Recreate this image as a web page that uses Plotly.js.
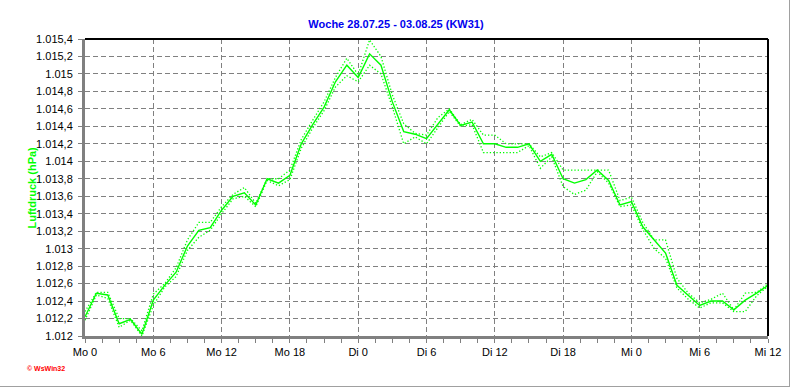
<!DOCTYPE html>
<html><head><meta charset="utf-8">
<script src="https://cdn.plot.ly/plotly-3.0.1.min.js"></script>
<style>
html,body{margin:0;padding:0;background:#fff;}
#wrap{position:relative;width:792px;height:387px;}
#chart{width:792px;height:387px;}
.bR{position:absolute;left:789px;top:0;width:1px;height:387px;background:#a0a0a0;}
.bB{position:absolute;left:0;top:386px;width:790px;height:1px;background:#a0a0a0;}
</style>
</head><body>
<div id="wrap"><div id="chart"></div><div class="bR"></div><div class="bB"></div></div>
<script>
// hours since Monday 0:00
const hours = [0,1,2,3,4,5,6,7,8,9,10,11,12,13,14,15,16,17,18,19,20,21,22,23,24,25,26,27,28,29,30,31,32,33,34,35,36,37,38,39,40,41,42,43,44,45,46,47,48,49,50,51,52,53,54,55,56,57,58,59,60];
const avgP = [1012.22,1012.49,1012.47,1012.14,1012.19,1012.02,1012.41,1012.58,1012.73,1013.03,1013.21,1013.24,1013.44,1013.6,1013.64,1013.5,1013.8,1013.75,1013.84,1014.2,1014.42,1014.62,1014.91,1015.1,1014.96,1015.23,1015.1,1014.68,1014.34,1014.31,1014.26,1014.43,1014.59,1014.41,1014.45,1014.2,1014.2,1014.16,1014.16,1014.2,1014.0,1014.08,1013.8,1013.75,1013.79,1013.9,1013.78,1013.5,1013.54,1013.25,1013.1,1012.95,1012.58,1012.47,1012.35,1012.4,1012.4,1012.3,1012.41,1012.49,1012.58];
const maxP = [1012.28,1012.5,1012.5,1012.2,1012.2,1012.06,1012.48,1012.6,1012.78,1013.1,1013.3,1013.3,1013.48,1013.62,1013.7,1013.52,1013.8,1013.8,1013.9,1014.25,1014.47,1014.68,1014.96,1015.18,1014.99,1015.39,1015.2,1014.76,1014.43,1014.32,1014.3,1014.5,1014.6,1014.42,1014.48,1014.3,1014.3,1014.2,1014.2,1014.2,1014.05,1014.1,1013.9,1013.9,1013.9,1013.9,1013.9,1013.55,1013.59,1013.3,1013.1,1013.1,1012.66,1012.49,1012.38,1012.42,1012.49,1012.3,1012.49,1012.5,1012.6];
const minP = [1012.18,1012.47,1012.43,1012.1,1012.18,1012.0,1012.35,1012.56,1012.68,1012.98,1013.13,1013.21,1013.4,1013.57,1013.6,1013.48,1013.78,1013.72,1013.79,1014.15,1014.38,1014.58,1014.85,1014.98,1014.91,1015.1,1015.0,1014.62,1014.2,1014.28,1014.2,1014.38,1014.57,1014.4,1014.42,1014.1,1014.1,1014.1,1014.1,1014.18,1013.92,1014.05,1013.71,1013.62,1013.67,1013.88,1013.75,1013.48,1013.5,1013.22,1013.0,1012.89,1012.55,1012.42,1012.32,1012.38,1012.38,1012.28,1012.28,1012.46,1012.57];
const xTickVals = [0,6,12,18,24,30,36,42,48,54,60];
const xTickText = ["Mo 0","Mo 6","Mo 12","Mo 18","Di 0","Di 6","Di 12","Di 18","Mi 0","Mi 6","Mi 12"];
const yTickVals = [1012,1012.2,1012.4,1012.6,1012.8,1013,1013.2,1013.4,1013.6,1013.8,1014,1014.2,1014.4,1014.6,1014.8,1015,1015.2,1015.4];
const yTickText = ["1.012","1.012,2","1.012,4","1.012,6","1.012,8","1.013","1.013,2","1.013,4","1.013,6","1.013,8","1.014","1.014,2","1.014,4","1.014,6","1.014,8","1.015","1.015,2","1.015,4"];
const titleText = "Woche 28.07.25 - 03.08.25 (KW31)";
const yTitle = "Luftdruck (hPa)";
const green = "#00ff00";

const traces = [
  {x: hours, y: maxP, mode: "lines", line: {color: green, width: 1.3, dash: "1.3px,2px"}, hoverinfo: "skip"},
  {x: hours, y: minP, mode: "lines", line: {color: green, width: 1.3, dash: "1.3px,2px"}, hoverinfo: "skip"},
  {x: hours, y: avgP, mode: "lines", line: {color: green, width: 1.4}, hoverinfo: "skip"}
];

const layout = {
  width: 792, height: 387,
  margin: {l: 85, r: 24, t: 39, b: 51},
  paper_bgcolor: "#ffffff", plot_bgcolor: "#ffffff",
  showlegend: false,
  font: {family: "Liberation Sans, Arial, sans-serif", size: 11, color: "#000"},
  title: {text: "<b>" + titleText + "</b>", font: {size: 11, color: "#0000ee", family: "Liberation Sans, Arial, sans-serif"},
          xref: "container", x: 0.5, xanchor: "center", yref: "container", y: 1 - 24/387, yanchor: "middle"},
  xaxis: {range: [0, 60], tickvals: xTickVals, ticktext: xTickText, showgrid: true,
          gridcolor: "#808080", griddash: "5px,3px", gridwidth: 1, zeroline: false,
          showline: true, linecolor: "#808080", linewidth: 3, ticks: "outside", ticklen: 4, tickcolor: "#808080", tickwidth: 1,
          minor: {dtick: 1.5, tick0: 0, ticks: "outside", ticklen: 4, tickcolor: "#808080", showgrid: false},
          tickfont: {size: 11}, fixedrange: true},
  yaxis: {range: [1012, 1015.4], tickvals: yTickVals, ticktext: yTickText, showgrid: true,
          gridcolor: "#808080", griddash: "5px,3px", gridwidth: 1, zeroline: false,
          showline: true, linecolor: "#808080", linewidth: 3, ticks: "outside", ticklen: 4, tickcolor: "#808080", tickwidth: 1,
          ticklabelstandoff: 3, tickfont: {size: 11}, fixedrange: true},
  shapes: [
    {type: "line", xref: "paper", yref: "paper", x0: 0, x1: 1, y0: 1, y1: 1, line: {color: "#000", width: 2}},
    {type: "line", xref: "paper", yref: "paper", x0: 1, x1: 1, y0: 0, y1: 1, line: {color: "#000", width: 2}}
  ],
  annotations: [
    {text: "<b>" + yTitle + "</b>", xref: "paper", yref: "paper", x: (31 - 85) / 683, y: 0.5,
     textangle: -90, showarrow: false, font: {size: 11, color: green}, xanchor: "center", yanchor: "middle"},
    {text: "<b>© WsWin32</b>", xref: "paper", yref: "paper", x: (25 - 85) / 683, y: (336 - 368) / 297,
     showarrow: false, font: {size: 7, color: "#ff0000"}, xanchor: "left", yanchor: "middle"}
  ]
};
Plotly.newPlot("chart", traces, layout, {staticPlot: true, displayModeBar: false});
</script>
</body></html>
